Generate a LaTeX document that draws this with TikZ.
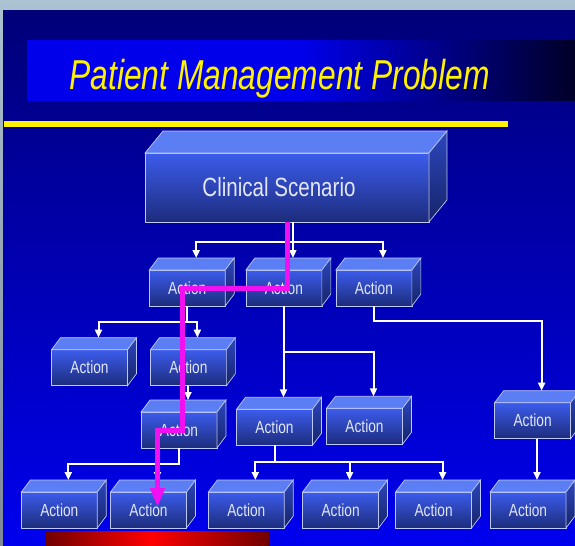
\documentclass[tikz,border=0pt]{standalone}
\usepackage{fontspec}
\setmainfont{Liberation Sans}
\usepackage{graphicx}
\usetikzlibrary{calc, arrows.meta}

\definecolor{navytop}{RGB}{0,0,120}
\definecolor{navybot}{RGB}{0,0,238}
\definecolor{bandblue}{RGB}{0,0,235}
\definecolor{banddark}{RGB}{0,0,40}
\definecolor{frametop}{RGB}{170,194,210}
\definecolor{framebot}{RGB}{128,136,150}
\definecolor{facetop}{RGB}{60,92,236}
\definecolor{facebot}{RGB}{28,44,124}
\definecolor{lidblue}{RGB}{92,126,244}
\definecolor{sidetop}{RGB}{44,70,190}
\definecolor{sidebot}{RGB}{22,36,104}
\definecolor{rimblue}{RGB}{190,200,245}
\definecolor{labelgrey}{RGB}{226,230,246}
\definecolor{pathpink}{RGB}{240,16,240}
\definecolor{bardark}{RGB}{112,0,0}

\newcommand{\narrow}[1]{\scalebox{0.78}[1]{#1}}

% lid and side of a box, plus the point where arrows land
\newcommand{\boxfaces}[3]{%
  \filldraw[lidface] (#1.north west) -- ++(#2,#3) -- ($(#1.north east)+(#2,#3)$)
    -- (#1.north east) -- cycle;
  \filldraw[sideface] (#1.north east) -- ($(#1.north east)+(#2,#3)$)
    -- ($(#1.south east)+(#2,#3)$) -- (#1.south east) -- cycle;
  \coordinate (#1t) at ($(#1.north)+(#2,#3)$);
}
\newcommand{\actionbox}[3]{%
  \node[action] (#1) at (#2,#3) {\narrow{Action}}; \boxfaces{#1}{9}{-12}
}

\begin{document}
\begin{tikzpicture}[x = 0.02cm, y = -0.02cm, % one unit is one pixel
                > = {Triangle[length=0.16cm, width=0.14cm]}, % arrow head style
                line join = miter
            ]

            \tikzstyle{action}=[draw = rimblue, line width = 0.4pt,
            top color = facetop, bottom color = facebot, minimum width = 1.52cm,
            minimum height = 0.72cm, inner sep = 0pt, outer sep = 0pt,
            text = labelgrey, font = \fontsize{10}{12}\selectfont]
            \tikzstyle{lidface}=[draw = rimblue, line width = 0.4pt, fill = lidblue]
            \tikzstyle{sideface}=[draw = rimblue, line width = 0.4pt,
            top color = sidetop, bottom color = sidebot]
            \tikzstyle{wire}=[draw = white, line width = 0.04cm]
            \tikzstyle{route}=[draw = pathpink, line width = 0.1cm,
            -{Triangle[length=0.38cm, width=0.28cm]}]

            \useasboundingbox (0,0) rectangle (575,545);

            % slide background
            \shade[top color = frametop, bottom color = framebot] (0,0) rectangle (575,545);
            \shade[top color = navytop, bottom color = navybot] (3,10) rectangle (575,545);
            \fill[bandblue] (27,40) rectangle (300,100.7);
            \shade[left color = bandblue, right color = banddark] (299.5,40) rectangle (575,100.7);
            \node[anchor = base west, text = yellow, inner sep = 0pt,
            font = \fontsize{23.8}{28}\selectfont\itshape] (title) at (69,89.3)
            {\scalebox{0.76}[1]{Patient Management Problem}};
            \fill[yellow] (3.7,121) rectangle (508,126.7);
            \shade[left color = bardark, right color = red] (45.8,531.7) rectangle (150.5,545);
            \shade[left color = red, right color = bardark] (150,531.7) rectangle (268.4,545);

            % boxes
            \node[action, minimum width = 5.68cm, minimum height = 1.38cm,
            font = \fontsize{15}{18}\selectfont] (CS) at (287,187.5)
            {\narrow{Clinical Scenario}\hspace*{0.32cm}};
            \boxfaces{CS}{18}{-22}

            \actionbox{A1}{187.2}{288} \actionbox{A2}{283.9}{288}
            \actionbox{A3}{373.9}{288}
            \actionbox{B1}{89.5}{367.7} \actionbox{B2}{188.4}{367.7}
            \actionbox{C1}{179}{430} \actionbox{C2}{274.5}{427.3}
            \actionbox{C3}{364.5}{426.3} \actionbox{C4}{532.6}{420.7}
            \actionbox{D1}{59.3}{510} \actionbox{D2}{148.5}{510}
            \actionbox{D3}{246.3}{510} \actionbox{D4}{340.6}{510}
            \actionbox{D5}{433.6}{510} \actionbox{D6}{528}{510}

            % connectors
            \coordinate (busA) at (293,242); \coordinate (busB) at (187,322);
            \coordinate (busC) at (284,352); \coordinate (busD) at (374,321);
            \coordinate (busE) at (179,464); \coordinate (busF) at (274,462);

            \draw[wire,->] (CS.south -| A2t) -- (A2t);
            \draw[wire,<->] (A1t) -- (busA -| A1t) -- (busA -| A3t) -- (A3t);

            \draw[wire] (A1.south) -- (A1.south |- busB);
            \draw[wire,<->] (B1t) -- (busB -| B1t) -- (busB -| B2t) -- (B2t);

            \draw[wire,->] (A2.south -| C2t) -- (C2t);
            \draw[wire,->] (busC -| C2t) -- (busC -| C3t) -- (C3t);

            \draw[wire,->] (A3.south) -- (A3.south |- busD) -- (busD -| C4t) -- (C4t);

            \draw[wire,->] (B2.south -| C1t) -- (C1t);

            \draw[wire,->] (C1.south) -- (C1.south |- busE) -- (busE -| D1t) -- (D1t);
            \draw[wire,->] (busE -| D2t) -- (D2t);

            \draw[wire] (C2.south) -- (C2.south |- busF);
            \draw[wire,<->] (D3t) -- (busF -| D3t) -- (busF -| D5t) -- (D5t);
            \draw[wire,->] (busF -| D4t) -- (D4t);

            \draw[wire,->] (C4.south -| D6t) -- (D6t);

            % highlighted route
            \coordinate (turn1) at (182.6,288); \coordinate (turn2) at (182.6,430);
            \coordinate (dest) at ($(D2t |- D2.center)+(0,-3)$);
            \draw[route] (CS.south) |- (turn1) -- (turn2) -| (dest);
\end{tikzpicture}
\end{document}
